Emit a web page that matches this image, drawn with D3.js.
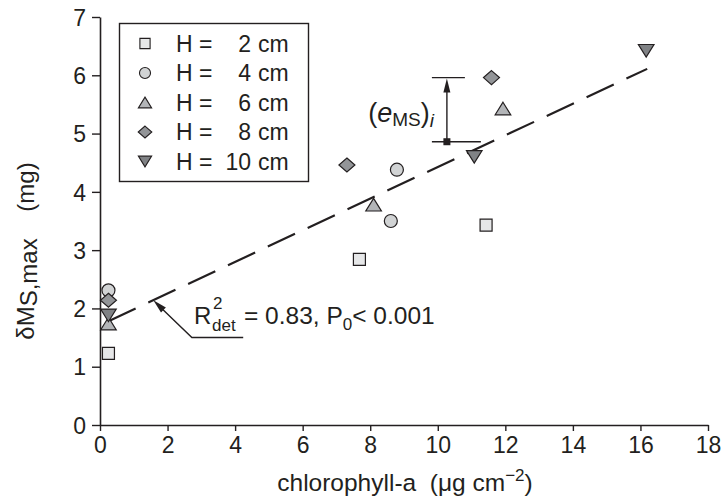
<!DOCTYPE html>
<html><head><meta charset="utf-8">
<script src="https://cdn.jsdelivr.net/npm/d3@7"></script>
<style>
body{margin:0;background:#fff}
text{font-family:"Liberation Sans",Arial,Helvetica,sans-serif;fill:#231f20}
</style>
</head><body><svg id="c" width="726" height="501"></svg>
<script>
// ---- data ----
const xTicks = [0,2,4,6,8,10,12,14,16,18];
const yTicks = [0,1,2,3,4,5,6,7];
const seriesH = [2,4,6,8,10];
const seriesLabelNum = ["2","4","6","8","10"];
const xH2 = [0.25,7.68,11.43],  yH2 = [1.23,2.84,3.43];
const xH4 = [0.25,8.61,8.79],   yH4 = [2.31,3.50,4.38];
const xH6 = [0.25,8.10,11.93],  yH6 = [1.74,3.78,5.43];
const xH8 = [0.25,7.31,11.59],  yH8 = [2.14,4.46,5.96];
const xH10 = [0.25,11.08,16.17], yH10 = [1.88,4.60,6.42];
const fitX = [0.25,16.2], fitY = [1.78,6.11];
const errX = 10.27, errTop = 5.96, errBottom = 4.86;
const r2Target = [1.58,2.14], r2Elbow = [2.72,1.50], r2End = [4.24,1.50];

// ---- setup ----
const svg = d3.select("#c");
const x = d3.scaleLinear().domain([0,18]).range([100,708]);
const y = d3.scaleLinear().domain([0,7]).range([425,17]);
const ink = "#231f20";

// axes
const gx = svg.append("g").attr("transform","translate(0,425)")
  .call(d3.axisBottom(x).tickValues(xTicks).tickFormat(d3.format("d")).tickSize(6).tickSizeOuter(0).tickPadding(5));
const gy = svg.append("g").attr("transform","translate(100,0)")
  .call(d3.axisLeft(y).tickValues(yTicks).tickFormat(d3.format("d")).tickSize(8).tickSizeOuter(0).tickPadding(6));
[gx,gy].forEach(g=>{
  g.select(".domain").attr("stroke",ink).attr("stroke-width",1.6);
  g.selectAll(".tick line").attr("stroke",ink).attr("stroke-width",1.4);
  g.selectAll(".tick text").attr("font-size",23).attr("fill",ink)
   .style("font-family",'"Liberation Sans",Arial,sans-serif');
});
gx.selectAll(".tick text").attr("dy","0.76em");
gy.selectAll(".tick text").attr("dy","0.36em");

// fit line
svg.append("line")
  .attr("x1",x(fitX[0])).attr("y1",y(fitY[0]))
  .attr("x2",x(fitX[1])).attr("y2",y(fitY[1]))
  .attr("stroke",ink).attr("stroke-width",2.2).attr("stroke-dasharray","30 14");

// symbols (bbox-centered)
function symPath(kind, s){
  const p = d3.path();
  if(kind==="square"){ const h=6*s; p.rect(-h,-h,2*h,2*h); }
  else if(kind==="circle"){ const r=6.5*s; p.moveTo(r,0); p.arc(0,0,r,0,2*Math.PI); }
  else if(kind==="tri"){ const w=7.8*s,h=6.3*s; p.moveTo(0,-h); p.lineTo(w,h); p.lineTo(-w,h); p.closePath(); }
  else if(kind==="dia"){ const w=8*s,h=7*s; p.moveTo(0,-h); p.lineTo(w,0); p.lineTo(0,h); p.lineTo(-w,0); p.closePath(); }
  else if(kind==="itri"){ const w=7.8*s,h=6.3*s; p.moveTo(-w,-h); p.lineTo(w,-h); p.lineTo(0,h); p.closePath(); }
  return p.toString();
}
const kinds = ["square","circle","tri","dia","itri"];
const fills = ["#e6e7e8","#d1d3d4","#b3b5b8","#939598","#808285"];
const xs = [xH2,xH4,xH6,xH8,xH10], ys = [yH2,yH4,yH6,yH8,yH10];

seriesH.forEach((h,i)=>{
  svg.append("g").selectAll("path").data(xs[i].map((v,j)=>[v,ys[i][j]]))
    .join("path")
    .attr("d",symPath(kinds[i],1))
    .attr("transform",d=>`translate(${x(d[0])},${y(d[1])})`)
    .attr("fill",fills[i]).attr("stroke",ink).attr("stroke-width",1.2);
});

// legend
const lg = svg.append("g");
lg.append("rect").attr("x",119.5).attr("y",23.5).attr("width",189).attr("height",158)
  .attr("fill","#fff").attr("stroke",ink).attr("stroke-width",1.4);
seriesH.forEach((h,i)=>{
  const ry = 43.5 + i*29.5;
  lg.append("path").attr("d",symPath(kinds[i],0.85))
    .attr("transform",`translate(145,${ry})`)
    .attr("fill",fills[i]).attr("stroke",ink).attr("stroke-width",1.1);
  lg.append("text").attr("x",176).attr("y",ry).attr("dy","0.36em").attr("font-size",23).text("H =");
  lg.append("text").attr("x",251).attr("y",ry).attr("dy","0.36em").attr("font-size",23)
    .attr("text-anchor","end").text(seriesLabelNum[i]);
  lg.append("text").attr("x",258).attr("y",ry).attr("dy","0.36em").attr("font-size",23).text("cm");
});

// axis labels
const xl = svg.append("text").attr("x",405).attr("y",491).attr("text-anchor","middle").attr("font-size",24.5);
xl.append("tspan").text("chlorophyll-a\u00a0\u00a0(\u03bcg cm");
xl.append("tspan").attr("font-size",17).attr("dy",-10).text("\u22122");
xl.append("tspan").attr("dy",10).text(")");

const yl = svg.append("text").attr("transform","translate(34,251) rotate(-90)")
  .attr("text-anchor","middle").attr("font-size",24);
yl.append("tspan").text("\u03b4M");
yl.append("tspan").attr("dy",3).text("S,max");
yl.append("tspan").attr("dy",-3).text("\u00a0\u00a0\u00a0\u00a0(mg)");

// arrowhead helper
function arrowHead(tx,ty,fx,fy,len,wid){
  const a = Math.atan2(ty-fy,tx-fx);
  const bx = tx - len*Math.cos(a), by = ty - len*Math.sin(a);
  const px = -Math.sin(a)*wid/2, py = Math.cos(a)*wid/2;
  svg.append("path").attr("d",`M${tx},${ty}L${bx+px},${by+py}L${bx-px},${by-py}Z`).attr("fill",ink);
}

// error bar annotation
const ex = x(errX);
svg.append("line").attr("x1",ex-15).attr("x2",ex+18).attr("y1",y(errTop)).attr("y2",y(errTop)).attr("stroke",ink).attr("stroke-width",1.4);
svg.append("line").attr("x1",ex-15).attr("x2",ex+34).attr("y1",y(errBottom)).attr("y2",y(errBottom)).attr("stroke",ink).attr("stroke-width",1.4);
svg.append("line").attr("x1",ex).attr("x2",ex).attr("y1",y(errBottom)).attr("y2",y(errTop)+8).attr("stroke",ink).attr("stroke-width",1.4);
arrowHead(ex,y(errTop)+1,ex,y(errBottom),14,7);
svg.append("rect").attr("x",ex-3.5).attr("y",y(errBottom)-3.5).attr("width",7).attr("height",7).attr("fill",ink);
const el = svg.append("text").attr("x",434).attr("y",122).attr("text-anchor","end").attr("font-size",27);
el.append("tspan").text("(");
el.append("tspan").attr("font-style","italic").text("e");
el.append("tspan").attr("font-size",19).attr("dy",4).text("MS");
el.append("tspan").attr("dy",-4).text(")");
el.append("tspan").attr("font-size",19).attr("font-style","italic").attr("dy",5).text("i");

// R2 annotation
const tX = x(r2Target[0]), tY = y(r2Target[1]);
svg.append("path").attr("d",`M${x(r2End[0])},${y(r2End[1])}H${x(r2Elbow[0])}L${tX+5},${tY+5}`)
  .attr("fill","none").attr("stroke",ink).attr("stroke-width",1.4);
arrowHead(tX,tY,x(r2Elbow[0]),y(r2Elbow[1]),14,7);
svg.append("text").attr("x",194).attr("y",324).attr("font-size",24).text("R");
svg.append("text").attr("x",213).attr("y",309).attr("font-size",17).text("2");
svg.append("text").attr("x",212).attr("y",331).attr("font-size",17).text("det");
const rt = svg.append("text").attr("x",244).attr("y",324).attr("font-size",24.5);
rt.append("tspan").text("= 0.83, P");
rt.append("tspan").attr("font-size",17).attr("dy",6).text("0");
rt.append("tspan").attr("dy",-6).text("< 0.001");
</script></body></html>
